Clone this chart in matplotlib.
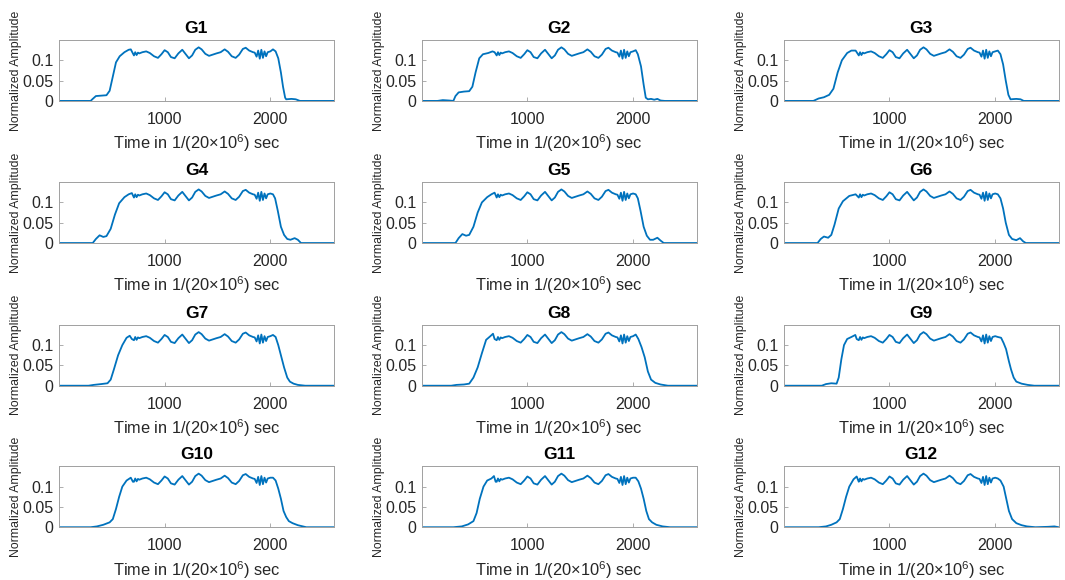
import matplotlib
matplotlib.use("Agg")
import matplotlib.pyplot as plt

plt.rcParams['font.family'] = ['Liberation Sans', 'DejaVu Sans']
plt.rcParams['mathtext.fontset'] = 'custom'
plt.rcParams['mathtext.rm'] = 'Liberation Sans'

titles = ['G1', 'G2', 'G3', 'G4', 'G5', 'G6', 'G7', 'G8', 'G9', 'G10', 'G11', 'G12']

# flat top part, about the same in all twelve panels
plateau_t = [710, 722, 735, 748, 760, 790, 826, 860, 900, 937, 970, 1000, 1030, 1060, 1095,
             1130, 1167, 1200, 1230, 1260, 1290, 1322, 1350, 1385, 1420, 1455, 1490, 1530,
             1568, 1600, 1635, 1672, 1705, 1740, 1767, 1800, 1836, 1852, 1870, 1885, 1900,
             1915, 1930, 1945, 1960, 1975, 2000]
plateau_a = [0.112, 0.12, 0.113, 0.119, 0.117, 0.12, 0.122, 0.118, 0.11, 0.106, 0.115, 0.125,
             0.12, 0.108, 0.105, 0.117, 0.126, 0.115, 0.105, 0.112, 0.126, 0.132, 0.127, 0.116,
             0.111, 0.114, 0.117, 0.12, 0.127, 0.121, 0.11, 0.106, 0.114, 0.128, 0.131, 0.124,
             0.12, 0.119, 0.109, 0.124, 0.104, 0.126, 0.106, 0.122, 0.11, 0.12, 0.122]

# rising edge of each panel
rise_t = [
    [0, 300, 320, 350, 400, 450, 480, 510, 540, 575, 620, 660, 680],
    [0, 150, 200, 260, 300, 320, 350, 400, 450, 480, 510, 545, 580, 630, 670, 690],
    [0, 280, 330, 380, 430, 470, 510, 550, 600, 640, 680],
    [0, 320, 350, 385, 420, 450, 490, 530, 570, 620, 660, 690],
    [0, 320, 350, 385, 420, 450, 490, 530, 570, 620, 660, 690],
    [0, 320, 350, 380, 420, 450, 480, 520, 560, 620, 680],
    [0, 280, 330, 400, 460, 490, 520, 560, 600, 640, 670, 690],
    [0, 280, 330, 400, 450, 490, 530, 570, 610, 650, 675, 690],
    [0, 360, 400, 450, 500, 520, 545, 570, 600, 640, 677, 690],
    [0, 300, 360, 420, 480, 510, 540, 570, 600, 640, 680, 700],
    [0, 300, 380, 440, 490, 520, 550, 585, 620, 660, 684, 700],
    [0, 330, 400, 450, 500, 530, 560, 590, 620, 660, 690, 705],
]
rise_a = [
    [0, 0, 0.005, 0.012, 0.013, 0.014, 0.025, 0.06, 0.095, 0.11, 0.12, 0.126, 0.127],
    [0, 0, 0.002, 0.001, 0, 0.012, 0.021, 0.023, 0.024, 0.035, 0.07, 0.105, 0.115, 0.118, 0.122, 0.12],
    [0, 0, 0.006, 0.009, 0.015, 0.03, 0.07, 0.1, 0.118, 0.124, 0.124],
    [0, 0, 0.01, 0.019, 0.015, 0.017, 0.035, 0.07, 0.098, 0.113, 0.12, 0.123],
    [0, 0, 0.012, 0.022, 0.018, 0.02, 0.04, 0.075, 0.1, 0.113, 0.12, 0.124],
    [0, 0, 0.01, 0.016, 0.013, 0.02, 0.045, 0.085, 0.103, 0.116, 0.12],
    [0, 0, 0.002, 0.004, 0.006, 0.015, 0.04, 0.075, 0.1, 0.118, 0.123, 0.115],
    [0, 0, 0.002, 0.003, 0.005, 0.02, 0.045, 0.08, 0.113, 0.122, 0.128, 0.115],
    [0, 0, 0.004, 0.006, 0.005, 0.02, 0.065, 0.1, 0.115, 0.12, 0.125, 0.115],
    [0, 0, 0.002, 0.006, 0.012, 0.02, 0.045, 0.075, 0.1, 0.115, 0.122, 0.112],
    [0, 0, 0.002, 0.007, 0.015, 0.035, 0.07, 0.1, 0.115, 0.12, 0.126, 0.112],
    [0, 0, 0.002, 0.006, 0.012, 0.02, 0.045, 0.075, 0.1, 0.118, 0.125, 0.115],
]

# falling edge of each panel
fall_t = [
    [2025, 2050, 2075, 2100, 2120, 2140, 2150, 2200, 2240, 2280, 2600],
    [2025, 2045, 2075, 2100, 2120, 2140, 2170, 2200, 2230, 2260, 2300, 2600],
    [2025, 2050, 2075, 2100, 2125, 2145, 2200, 2240, 2270, 2600],
    [2025, 2045, 2070, 2100, 2130, 2160, 2190, 2230, 2260, 2290, 2600],
    [2025, 2045, 2070, 2100, 2130, 2160, 2190, 2230, 2260, 2290, 2600],
    [2025, 2050, 2075, 2100, 2130, 2160, 2200, 2235, 2265, 2290, 2600],
    [2025, 2050, 2075, 2100, 2130, 2160, 2185, 2220, 2260, 2330, 2600],
    [2025, 2050, 2080, 2110, 2140, 2170, 2210, 2260, 2330, 2600],
    [2025, 2056, 2080, 2103, 2130, 2150, 2175, 2200, 2250, 2307, 2370, 2600],
    [2025, 2050, 2075, 2100, 2125, 2150, 2175, 2210, 2260, 2340, 2600],
    [2025, 2050, 2075, 2100, 2125, 2150, 2180, 2220, 2280, 2350, 2600],
    [2025, 2050, 2080, 2105, 2130, 2160, 2200, 2250, 2300, 2380, 2500, 2560, 2600],
]
fall_a = [
    [0.127, 0.122, 0.105, 0.07, 0.035, 0.008, 0.004, 0.005, 0.004, 0, 0],
    [0.125, 0.115, 0.085, 0.04, 0.008, 0.004, 0.005, 0.003, 0.005, 0.001, 0, 0],
    [0.124, 0.115, 0.09, 0.05, 0.015, 0.004, 0.005, 0.004, 0, 0],
    [0.12, 0.11, 0.08, 0.04, 0.02, 0.01, 0.008, 0.012, 0.008, 0, 0],
    [0.12, 0.11, 0.08, 0.04, 0.018, 0.008, 0.008, 0.013, 0.006, 0, 0],
    [0.12, 0.11, 0.085, 0.05, 0.02, 0.01, 0.007, 0.012, 0.004, 0, 0],
    [0.125, 0.12, 0.1, 0.075, 0.045, 0.02, 0.01, 0.005, 0.002, 0, 0],
    [0.126, 0.115, 0.095, 0.07, 0.035, 0.015, 0.007, 0.003, 0, 0],
    [0.12, 0.118, 0.105, 0.09, 0.06, 0.04, 0.02, 0.01, 0.005, 0.002, 0, 0],
    [0.122, 0.115, 0.095, 0.07, 0.04, 0.025, 0.015, 0.01, 0.005, 0, 0],
    [0.122, 0.113, 0.095, 0.07, 0.04, 0.02, 0.012, 0.006, 0.002, 0, 0],
    [0.12, 0.115, 0.1, 0.07, 0.04, 0.02, 0.01, 0.005, 0.002, 0, 0.001, 0.002, 0],
]

fig = plt.figure(figsize=(10.65, 5.8), dpi=100)

col_left = [0.0554, 0.396, 0.736]
row_bottom = [0.826, 0.581, 0.335, 0.091]
w, h = 0.258, 0.105

for i in range(12):
    r, c = i // 3, i % 3
    ax = fig.add_axes([col_left[c], row_bottom[r], w, h])
    t = rise_t[i] + plateau_t + fall_t[i]
    a = rise_a[i] + plateau_a + fall_a[i]
    ax.plot(t, a, color='#0072BD', lw=1.3)
    ax.set_xlim(1, 2600)
    ax.set_ylim(0, 0.15)
    ax.set_xticks([1000, 2000])
    ax.set_yticks([0, 0.05, 0.1])
    ax.set_yticklabels(['0', '0.05', '0.1'])
    ax.tick_params(direction='in', length=3, width=0.6, colors='#a0a0a0',
                   labelcolor='#262626', labelsize=11.5)
    ax.tick_params(axis='x', pad=8)
    ax.tick_params(axis='y', pad=4)
    for s in ax.spines.values():
        s.set_color('#a0a0a0')
        s.set_linewidth(0.7)
    ax.set_title(titles[i], fontsize=12.5, fontweight='bold', pad=5)
    ax.set_xlabel(r'Time in 1/(20×10$^{\mathregular{6}}$) sec', fontsize=11.8,
                  color='#262626', labelpad=4)
    ax.set_ylabel('Normalized Amplitude', fontsize=8.8, color='#262626', labelpad=0)

plt.savefig('out.png', dpi=100)
